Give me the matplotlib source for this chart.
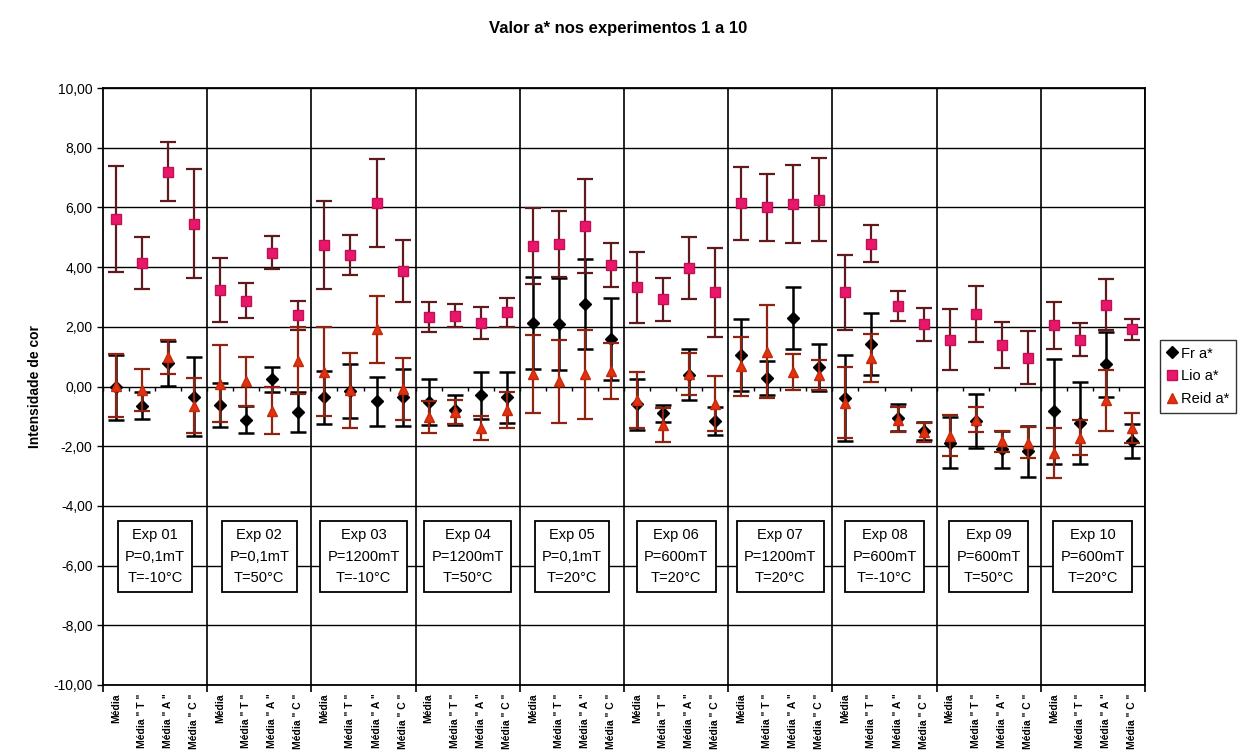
import numpy as np
import matplotlib
matplotlib.use("Agg")
import matplotlib.pyplot as plt

plt.rcParams['font.family'] = ['Liberation Sans', 'DejaVu Sans']

# Categories: four measurements per experiment, ten experiments
cat_labels = ['Média', 'Média " T "', 'Média " A "', 'Média " C "'] * 10

fr_mean = [-0.03, -0.64, 0.78, -0.34, -0.62, -1.12, 0.24, -0.86,
           -0.36, -0.15, -0.50, -0.36, -0.53, -0.80, -0.30, -0.36,
           2.12, 2.10, 2.76, 1.60, -0.60, -0.90, 0.40, -1.16,
           1.06, 0.28, 2.28, 0.64, -0.40, 1.43, -1.05, -1.50,
           -1.88, -1.15, -2.11, -2.17, -0.83, -1.23, 0.74, -1.83]
fr_err = [1.10, 0.45, 0.75, 1.32, 0.75, 0.45, 0.41, 0.67,
          0.89, 0.90, 0.81, 0.95, 0.77, 0.50, 0.80, 0.86,
          1.55, 1.55, 1.50, 1.37, 0.85, 0.28, 0.85, 0.46,
          1.20, 0.56, 1.04, 0.79, 1.44, 1.03, 0.45, 0.30,
          0.86, 0.90, 0.61, 0.85, 1.76, 1.37, 1.10, 0.57]

lio_mean = [5.60, 4.15, 7.20, 5.45, 3.23, 2.87, 4.48, 2.38,
            4.75, 4.40, 6.16, 3.87, 2.32, 2.37, 2.12, 2.48,
            4.72, 4.78, 5.37, 4.08, 3.32, 2.92, 3.97, 3.15,
            6.14, 6.00, 6.12, 6.26, 3.15, 4.79, 2.70, 2.09,
            1.57, 2.42, 1.39, 0.97, 2.05, 1.57, 2.74, 1.92]
lio_err = [1.78, 0.87, 1.00, 1.83, 1.06, 0.59, 0.56, 0.48,
           1.48, 0.66, 1.47, 1.03, 0.50, 0.39, 0.53, 0.49,
           1.27, 1.11, 1.58, 0.74, 1.19, 0.71, 1.03, 1.48,
           1.22, 1.11, 1.30, 1.39, 1.26, 0.63, 0.50, 0.55,
           1.03, 0.94, 0.76, 0.89, 0.79, 0.55, 0.86, 0.35]

reid_mean = [0.03, -0.13, 0.98, -0.64, 0.09, 0.17, -0.81, 0.87,
             0.50, -0.13, 1.91, -0.08, -1.03, -0.85, -1.40, -0.78,
             0.41, 0.18, 0.41, 0.52, -0.45, -1.28, 0.42, -0.57,
             0.68, 1.17, 0.49, 0.38, -0.54, 0.95, -1.11, -1.54,
             -1.65, -1.12, -1.83, -1.88, -2.23, -1.71, -0.46, -1.39]
reid_err = [1.05, 0.70, 0.57, 0.93, 1.29, 0.81, 0.78, 1.12,
            1.49, 1.25, 1.13, 1.04, 0.54, 0.40, 0.40, 0.60,
            1.31, 1.39, 1.49, 0.95, 0.95, 0.57, 0.70, 0.92,
            0.99, 1.55, 0.60, 0.50, 1.20, 0.80, 0.42, 0.33,
            0.68, 0.42, 0.35, 0.53, 0.85, 0.60, 1.02, 0.50]

exp_names = ['Exp 01', 'Exp 02', 'Exp 03', 'Exp 04', 'Exp 05',
             'Exp 06', 'Exp 07', 'Exp 08', 'Exp 09', 'Exp 10']
exp_pressure = ['P=0,1mT', 'P=0,1mT', 'P=1200mT', 'P=1200mT', 'P=0,1mT',
                'P=600mT', 'P=1200mT', 'P=600mT', 'P=600mT', 'P=600mT']
exp_temp = ['T=-10°C', 'T=50°C', 'T=-10°C', 'T=50°C', 'T=20°C',
            'T=20°C', 'T=20°C', 'T=-10°C', 'T=50°C', 'T=20°C']

y_ticks = [10, 8, 6, 4, 2, 0, -2, -4, -6, -8, -10]
y_tick_labels = ['10,00', '8,00', '6,00', '4,00', '2,00', '0,00',
                 '-2,00', '-4,00', '-6,00', '-8,00', '-10,00']

W, H = 1243, 753
fig = plt.figure(figsize=(W / 100, H / 100), dpi=100)
ax = fig.add_axes([103 / W, 1 - 685 / H, (1145 - 103) / W, (685 - 88) / H])

n = len(cat_labels)
x = np.arange(n)
per_group = 4
n_groups = n // per_group

ax.set_xlim(-0.5, n - 0.5)
ax.set_ylim(-10, 10)

# grid: horizontal every 2 units, vertical between experiments
ax.set_yticks(y_ticks)
ax.set_yticklabels(y_tick_labels, fontsize=10)
ax.yaxis.grid(True, color='black', lw=1.0)
boundaries = np.arange(-0.5, n, per_group)
for b in boundaries[1:]:
    ax.axvline(b, color='black', lw=1.2, zorder=1)
ax.set_axisbelow(True)

ax.set_xticks(x)
ax.set_xticklabels(cat_labels, rotation=90, fontsize=7.5, fontweight='bold',
                   family=['Liberation Sans Narrow', 'Liberation Sans'])
ax.tick_params(axis='x', length=0, pad=6)
ax.set_xticks(boundaries, minor=True)
ax.tick_params(axis='x', which='minor', length=5, width=1.2, direction='out')
ax.tick_params(axis='y', length=4, width=1, direction='out')

for s in ax.spines.values():
    s.set_linewidth(1.3)
    s.set_color('black')

# small category ticks along the zero line
cat_bounds = np.arange(-0.5, n, 1)
ax.vlines(cat_bounds, -0.14, 0.0, color='black', lw=1.0, zorder=2)

ax.errorbar(x, fr_mean, yerr=fr_err, fmt='D', color='black', ms=6,
            ecolor='black', elinewidth=1.8, capsize=5.5, capthick=1.8,
            zorder=3, label='Fr a*')
ax.errorbar(x, lio_mean, yerr=lio_err, fmt='s', mfc='#e8176b', mec='#c21055',
            ms=6.5, ecolor='#5e1a1c', elinewidth=1.6, capsize=5.5, capthick=1.6,
            zorder=4, label='Lio a*')
ax.errorbar(x, reid_mean, yerr=reid_err, fmt='^', mfc='#e3300f', mec='#c42a0c',
            ms=7, ecolor='#8e2312', elinewidth=1.6, capsize=5.5, capthick=1.6,
            zorder=5, label='Reid a*')

# experiment description boxes
for g in range(n_groups):
    cx = g * per_group + (per_group - 1) / 2
    ax.text(cx, -5.7, f'{exp_names[g]}\n{exp_pressure[g]}\n{exp_temp[g]}',
            ha='center', va='center', fontsize=10.5, linespacing=1.65,
            bbox=dict(boxstyle='square,pad=0.5', fc='white', ec='black', lw=1.3),
            zorder=6)

ax.set_ylabel('Intensidade de cor', fontsize=10, fontweight='bold', labelpad=8)

handles, labels = ax.get_legend_handles_labels()
handles = [h[0] for h in handles]
leg = fig.legend(handles, labels, loc='upper left',
                 bbox_to_anchor=(1160 / W, 1 - 340 / H), fontsize=10.5,
                 frameon=True, fancybox=False, edgecolor='black',
                 handlelength=0.7, handletextpad=0.3, borderpad=0.45,
                 labelspacing=0.6, borderaxespad=0)
leg.get_frame().set_linewidth(1.0)

fig.text(618 / W, 1 - 28 / H, 'Valor a* nos experimentos 1 a 10',
         ha='center', va='center', fontsize=12, fontweight='bold',
         family=['Liberation Sans Narrow', 'Liberation Sans'])

fig.savefig('out.png', dpi=100, facecolor='white')
